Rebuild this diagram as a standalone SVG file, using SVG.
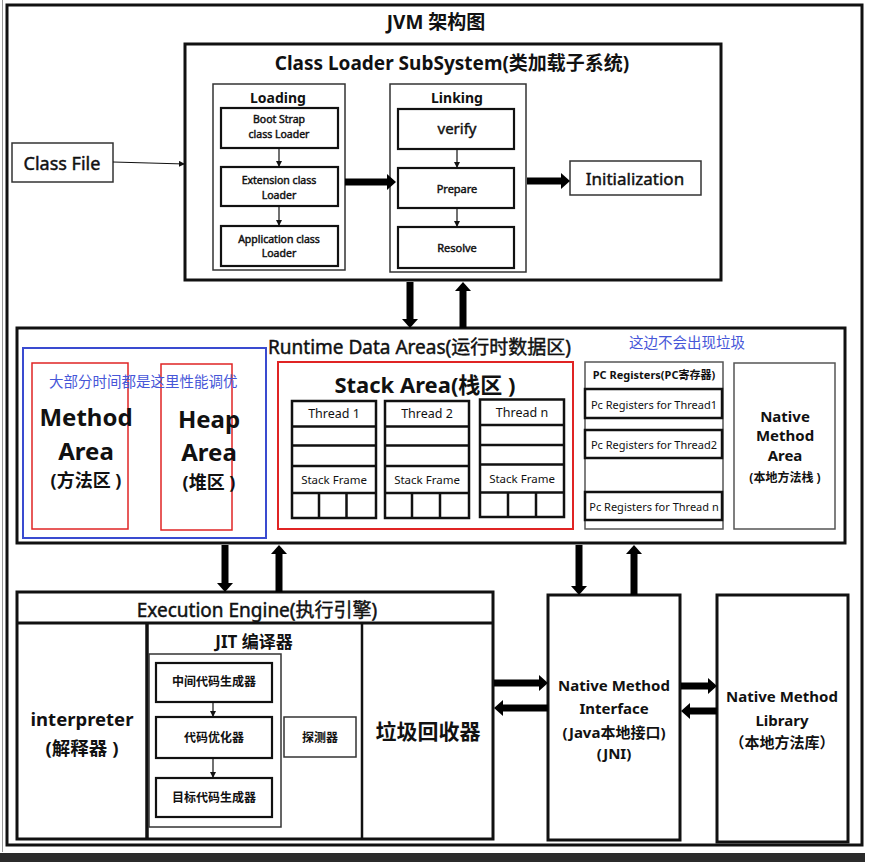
<svg xmlns="http://www.w3.org/2000/svg" width="873" height="862" viewBox="0 0 873 862">
<defs>
<style>
.t{font-family:"Noto Sans","Noto Sans CJK SC",sans-serif;fill:#111;text-anchor:middle;dominant-baseline:central}
.s{text-anchor:start}
.b{font-weight:bold}
.m{stroke:#111;stroke-width:0.45}
.box{fill:#fff;stroke:#111;stroke-width:3}
.thin{fill:#fff;stroke:#333;stroke-width:1.5}
.mid{fill:#fff;stroke:#111;stroke-width:2.2}
.red{fill:none;stroke:#e02424;stroke-width:1.5}
.blue{fill:#4656d8}
.thick{stroke:#000;stroke-width:7;fill:none;marker-end:url(#big)}
.fine{stroke:#111;stroke-width:1.2;fill:none;marker-end:url(#small)}
</style>
<marker id="big" markerUnits="userSpaceOnUse" markerWidth="9" markerHeight="16" viewBox="0 0 9 16" refX="0" refY="8" orient="auto"><path d="M0,0 L9,8 L0,16 z" fill="#000"/></marker>
<marker id="small" markerUnits="userSpaceOnUse" markerWidth="6" markerHeight="6" viewBox="0 0 6 6" refX="6" refY="3" orient="auto"><path d="M0,0 L6,3 L0,6 z" fill="#111"/></marker>
</defs>
<rect width="873" height="862" fill="#fff"/>
<line x1="2.5" y1="0" x2="2.5" y2="852" stroke="#999" stroke-width="1"/>
<rect x="7" y="5" width="855" height="840" fill="#fff" stroke="#111" stroke-width="3"/>
<rect x="0" y="853" width="865" height="9" fill="#2b2b2b"/>

<g id="title"><text class="t b" x="436" y="22" font-size="19">JVM 架构图</text></g>

<g id="class-file"><rect class="thin" x="12" y="143" width="101" height="39"/><text class="t m" x="62" y="163" font-size="18">Class File</text></g>

<g id="class-loader"><rect class="box" x="185" y="44" width="536" height="236"/><text class="t b" x="452" y="63" font-size="19">Class Loader SubSystem(类加载子系统)</text></g>

<g id="loading"><rect class="thin" x="213" y="84" width="132" height="186"/><text class="t b" x="278" y="97" font-size="14">Loading</text></g>
<g id="bootstrap-loader"><rect class="mid" x="221" y="108" width="117" height="40"/><text class="t m" x="279" y="119" font-size="10.5">Boot Strap</text><text class="t m" x="279" y="134" font-size="10.5">class Loader</text></g>
<g id="extension-loader"><rect class="mid" x="221" y="167" width="117" height="39"/><text class="t m" x="279" y="180" font-size="10.5">Extension class</text><text class="t m" x="279" y="195" font-size="10.5">Loader</text></g>
<g id="application-loader"><rect class="mid" x="221" y="226" width="117" height="40"/><text class="t m" x="279" y="239" font-size="10.5">Application class</text><text class="t m" x="279" y="253" font-size="10.5">Loader</text></g>

<g id="linking"><rect class="thin" x="390" y="84" width="136" height="188"/><text class="t b" x="457" y="97" font-size="14">Linking</text></g>
<g id="verify"><rect class="mid" x="398" y="109" width="116" height="40"/><text class="t m" x="457" y="128" font-size="15">verify</text></g>
<g id="prepare"><rect class="mid" x="398" y="168" width="116" height="40"/><text class="t m" x="457" y="188" font-size="11">Prepare</text></g>
<g id="resolve"><rect class="mid" x="398" y="227" width="116" height="41"/><text class="t m" x="457" y="247" font-size="11">Resolve</text></g>

<g id="initialization"><rect class="thin" x="570" y="161" width="131" height="34"/><text class="t m" x="635" y="178" font-size="17">Initialization</text></g>

<g id="runtime-data-areas"><rect class="box" x="17" y="328" width="828" height="215"/><text class="t s m" x="268" y="347" font-size="19">Runtime Data Areas(运行时数据区)</text><text class="t s blue" x="629" y="342" font-size="14.5">这边不会出现垃圾</text></g>

<g id="method-area"><rect class="red" x="32" y="363" width="96" height="166"/><text class="t b" x="86" y="416" font-size="24">Method</text><text class="t b" x="86" y="450" font-size="24">Area</text><text class="t b" x="86" y="480" font-size="18">(方法区 )</text></g>
<g id="heap-area"><rect class="red" x="161" y="364" width="71" height="166"/><text class="t b" x="209" y="418" font-size="24">Heap</text><text class="t b" x="209" y="451" font-size="24">Area</text><text class="t b" x="209" y="482" font-size="18">(堆区 )</text></g>
<g id="tuning-note"><rect x="23" y="348" width="243" height="190" fill="none" stroke="#3a4bd0" stroke-width="2"/><text class="t s blue" x="49" y="381" font-size="14.5">大部分时间都是这里性能调优</text></g>

<g id="stack-area"><rect x="278" y="362" width="295" height="167" fill="none" stroke="#e02424" stroke-width="2"/><text class="t b" x="425" y="384" font-size="22">Stack Area(栈区 )</text></g>
<g id="thread-1" fill="none" stroke="#111" stroke-width="2.5">
<rect x="292" y="401" width="84" height="117" fill="#fff"/>
<path d="M292,426.5H376M292,445.5H376M292,466H376M292,493H376M319,493V518M346.5,493V518"/>
<text class="t" stroke="none" x="334" y="413" font-size="12.5">Thread 1</text><text class="t" stroke="none" x="334" y="479" font-size="11.5">Stack Frame</text></g>
<g id="thread-2" fill="none" stroke="#111" stroke-width="2.5">
<rect x="385" y="401" width="84" height="117" fill="#fff"/>
<path d="M385,426.5H469M385,445.5H469M385,466H469M385,493H469M412,493V518M440,493V518"/>
<text class="t" stroke="none" x="427" y="413" font-size="12.5">Thread 2</text><text class="t" stroke="none" x="427" y="479" font-size="11.5">Stack Frame</text></g>
<g id="thread-n" fill="none" stroke="#111" stroke-width="2.5">
<rect x="480" y="399.5" width="84" height="117.5" fill="#fff"/>
<path d="M480,425H564M480,445H564M480,464.5H564M480,492.5H564M508,492.5V517M536,492.5V517"/>
<text class="t" stroke="none" x="522" y="412" font-size="12.5">Thread n</text><text class="t" stroke="none" x="522" y="478" font-size="11.5">Stack Frame</text></g>

<g id="pc-registers"><rect x="585" y="362" width="138" height="167" fill="#fff" stroke="#555" stroke-width="1.5"/><text class="t b" x="654" y="374" font-size="11">PC Registers(PC寄存器)</text>
<rect x="585" y="389" width="137" height="29" fill="#fff" stroke="#111" stroke-width="2.5"/><text class="t" x="654" y="404" font-size="11">Pc Registers for Thread1</text>
<rect x="585" y="430" width="137" height="28" fill="#fff" stroke="#111" stroke-width="2.5"/><text class="t" x="654" y="444" font-size="11">Pc Registers for Thread2</text>
<rect x="585" y="492" width="137" height="28" fill="#fff" stroke="#111" stroke-width="2.5"/><text class="t" x="654" y="506" font-size="11">Pc Registers for Thread n</text></g>

<g id="native-method-area"><rect x="734" y="363" width="101" height="166" fill="#fff" stroke="#555" stroke-width="1.5"/><text class="t b" x="785" y="416" font-size="15">Native</text><text class="t b" x="785" y="435" font-size="15">Method</text><text class="t b" x="785" y="455" font-size="15">Area</text><text class="t b" x="785" y="477" font-size="12">(本地方法栈 )</text></g>

<g id="execution-engine"><rect class="box" x="17" y="592" width="476" height="247"/><line x1="17" y1="623" x2="493" y2="623" stroke="#111" stroke-width="3"/><text class="t m" x="257" y="610" font-size="19">Execution Engine(执行引擎)</text></g>
<g id="interpreter"><line x1="147" y1="623" x2="147" y2="839" stroke="#111" stroke-width="3.5"/><text class="t b" x="82" y="718" font-size="18.5">interpreter</text><text class="t b" x="82" y="747" font-size="18.5">(解释器 )</text></g>
<g id="jit-compiler"><line x1="362" y1="623" x2="362" y2="839" stroke="#111" stroke-width="2.5"/><text class="t b" x="254" y="641" font-size="17">JIT 编译器</text><rect class="thin" x="149" y="654" width="132" height="173"/></g>
<g id="ir-generator"><rect class="mid" x="156" y="663" width="116" height="39"/><text class="t b" x="214" y="681" font-size="12">中间代码生成器</text></g>
<g id="code-optimizer"><rect class="mid" x="156" y="717" width="116" height="41"/><text class="t b" x="214" y="737" font-size="12">代码优化器</text></g>
<g id="target-generator"><rect class="mid" x="156" y="778" width="116" height="39"/><text class="t b" x="214" y="797" font-size="12">目标代码生成器</text></g>
<g id="profiler"><rect class="thin" x="284" y="717" width="72" height="40"/><text class="t b" x="320" y="737" font-size="12">探测器</text></g>
<g id="garbage-collector"><text class="t b" x="428" y="731" font-size="21">垃圾回收器</text></g>

<g id="jni"><rect class="box" x="548" y="595" width="132" height="245"/><text class="t b" x="614" y="685" font-size="15">Native Method</text><text class="t b" x="614" y="708" font-size="15">Interface</text><text class="t b" x="614" y="732" font-size="15">(Java本地接口)</text><text class="t b" x="614" y="753" font-size="15">(JNI)</text></g>
<g id="native-method-library"><rect class="box" x="717" y="595" width="131" height="247"/><text class="t b" x="782" y="696" font-size="15">Native Method</text><text class="t b" x="782" y="720" font-size="15">Library</text><text class="t b" x="782" y="742" font-size="15">（本地方法库）</text></g>

<g id="connectors">
<line class="fine" x1="113" y1="162" x2="185" y2="164"/>
<line class="fine" x1="279" y1="148" x2="279" y2="167"/>
<line class="fine" x1="279" y1="206" x2="279" y2="226"/>
<line class="fine" x1="457" y1="149" x2="457" y2="168"/>
<line class="fine" x1="457" y1="208" x2="457" y2="227"/>
<line class="fine" x1="213" y1="702" x2="213" y2="717"/>
<line class="fine" x1="213" y1="758" x2="213" y2="778"/>
<line class="thick" x1="345" y1="182" x2="387" y2="182"/>
<line class="thick" x1="527" y1="181" x2="561" y2="181"/>
<line class="thick" x1="410" y1="282" x2="410" y2="319"/>
<line class="thick" x1="463" y1="328" x2="463" y2="291"/>
<line class="thick" x1="225" y1="545" x2="225" y2="583"/>
<line class="thick" x1="279" y1="592" x2="279" y2="554"/>
<line class="thick" x1="579" y1="545" x2="579" y2="586"/>
<line class="thick" x1="634" y1="595" x2="634" y2="554"/>
<line class="thick" x1="494" y1="683" x2="539" y2="683"/>
<line class="thick" x1="548" y1="708" x2="503" y2="708"/>
<line class="thick" x1="681" y1="686" x2="708" y2="686"/>
<line class="thick" x1="717" y1="711" x2="690" y2="711"/>
</g>
</svg>
